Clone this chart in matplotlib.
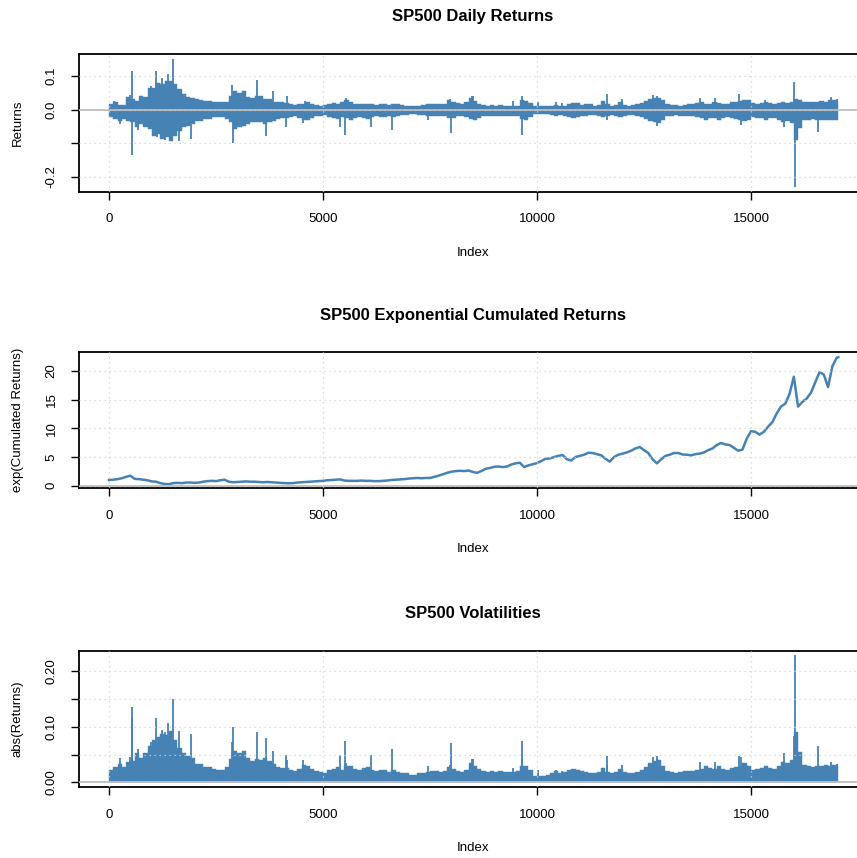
import numpy as np
import matplotlib
matplotlib.use("Agg")
import matplotlib.pyplot as plt

plt.rcParams["font.family"] = ["Liberation Sans", "DejaVu Sans"]

n_days = 17040
ret_up = [
    0.017, 0.024, 0.014, 0.014, 0.037, 0.032, 0.027, 0.042, 0.037, 0.066,
    0.066, 0.081, 0.076, 0.086, 0.086, 0.076, 0.061, 0.047, 0.037, 0.034,
    0.032, 0.029, 0.027, 0.025, 0.024, 0.022, 0.022, 0.024, 0.042, 0.056,
    0.051, 0.056, 0.037, 0.034, 0.042, 0.040, 0.032, 0.032, 0.024, 0.022,
    0.022, 0.020, 0.018, 0.014, 0.016, 0.018, 0.022, 0.018, 0.014, 0.012,
    0.014, 0.018, 0.020, 0.018, 0.022, 0.030, 0.022, 0.018, 0.016, 0.018,
    0.016, 0.016, 0.014, 0.018, 0.018, 0.014, 0.018, 0.016, 0.014, 0.012,
    0.012, 0.012, 0.012, 0.014, 0.016, 0.018, 0.018, 0.016, 0.018, 0.028,
    0.024, 0.020, 0.018, 0.022, 0.035, 0.025, 0.018, 0.014, 0.012, 0.014,
    0.012, 0.014, 0.012, 0.012, 0.012, 0.012, 0.030, 0.026, 0.020, 0.010,
    0.012, 0.010, 0.010, 0.012, 0.014, 0.010, 0.012, 0.016, 0.020, 0.020,
    0.014, 0.018, 0.016, 0.012, 0.014, 0.026, 0.016, 0.012, 0.014, 0.024,
    0.014, 0.012, 0.014, 0.016, 0.020, 0.026, 0.032, 0.036, 0.036, 0.028,
    0.018, 0.014, 0.014, 0.012, 0.014, 0.016, 0.016, 0.020, 0.022, 0.016,
    0.018, 0.022, 0.020, 0.018, 0.016, 0.022, 0.024, 0.026, 0.030, 0.028,
    0.020, 0.018, 0.020, 0.022, 0.020, 0.018, 0.020, 0.022, 0.020, 0.022,
    0.032, 0.030, 0.024, 0.022, 0.024, 0.024, 0.026, 0.024, 0.028, 0.030,
    0.025,
]
ret_lo = [
    -0.023, -0.028, -0.033, -0.028, -0.033, -0.038, -0.052, -0.043, -0.052, -0.057,
    -0.077, -0.072, -0.087, -0.082, -0.092, -0.077, -0.062, -0.052, -0.048, -0.043,
    -0.033, -0.033, -0.028, -0.028, -0.023, -0.023, -0.023, -0.028, -0.038, -0.057,
    -0.052, -0.048, -0.043, -0.038, -0.038, -0.038, -0.043, -0.038, -0.033, -0.028,
    -0.026, -0.026, -0.022, -0.020, -0.024, -0.032, -0.030, -0.024, -0.020, -0.018,
    -0.016, -0.022, -0.024, -0.028, -0.022, -0.026, -0.030, -0.024, -0.022, -0.026,
    -0.028, -0.022, -0.020, -0.022, -0.022, -0.018, -0.022, -0.018, -0.016, -0.016,
    -0.014, -0.014, -0.016, -0.016, -0.018, -0.020, -0.020, -0.018, -0.020, -0.026,
    -0.024, -0.020, -0.018, -0.022, -0.028, -0.030, -0.024, -0.020, -0.018, -0.020,
    -0.018, -0.020, -0.018, -0.018, -0.018, -0.020, -0.028, -0.030, -0.022, -0.012,
    -0.012, -0.012, -0.014, -0.016, -0.020, -0.016, -0.018, -0.022, -0.024, -0.022,
    -0.020, -0.018, -0.016, -0.016, -0.018, -0.022, -0.018, -0.016, -0.018, -0.022,
    -0.018, -0.016, -0.016, -0.018, -0.022, -0.028, -0.034, -0.038, -0.040, -0.030,
    -0.020, -0.018, -0.016, -0.018, -0.020, -0.020, -0.020, -0.022, -0.024, -0.030,
    -0.026, -0.024, -0.030, -0.024, -0.022, -0.026, -0.028, -0.030, -0.034, -0.030,
    -0.022, -0.024, -0.026, -0.030, -0.026, -0.024, -0.030, -0.036, -0.035, -0.040,
    -0.090, -0.055, -0.032, -0.030, -0.028, -0.030, -0.030, -0.032, -0.030, -0.032,
    -0.030,
]

# single days that stick out of the envelope
spike_day = [117, 257, 491, 545, 548, 686, 779, 974, 1100, 1114, 1231, 1309,
             1390, 1500, 1636, 1917, 2880, 2890, 3450, 3660, 3820, 4140, 4150,
             4540, 4578, 5400, 5513, 5537, 5591, 6120, 6620, 7460, 7967, 7990,
             8473, 8510, 9446, 9640, 9650, 10020, 10450, 10575, 11627, 11640,
             11977, 12718, 12794, 12800, 13800, 14160, 14720, 14765, 15326,
             15770, 16010, 16030, 16556, 16860, 17000]
spike_ret = [0.025, -0.043, 0.045, 0.115, -0.136, -0.060, 0.040, 0.072, 0.115,
             -0.080, 0.095, -0.090, 0.106, 0.150, -0.092, -0.087, 0.073, -0.100,
             0.090, -0.079, 0.056, -0.050, 0.040, -0.040, 0.025, -0.050, -0.075,
             0.035, 0.030, -0.050, -0.060, -0.030, 0.032, -0.070, 0.042, 0.042,
             0.025, 0.042, -0.075, 0.022, 0.022, 0.020, 0.047, -0.030, 0.032,
             0.045, -0.048, 0.042, 0.036, 0.036, 0.047, -0.045, 0.030, -0.052,
             0.083, -0.229, -0.065, 0.037, 0.033]

# exp(cumulated returns), every 100 days plus the last day
cum_day = list(range(0, 17001, 100)) + [17040]
cum_val = [
    1.00, 1.05, 1.15, 1.30, 1.55, 1.75, 1.20, 1.15, 1.05, 0.95,
    0.75, 0.70, 0.45, 0.30, 0.28, 0.45, 0.50, 0.45, 0.55, 0.55,
    0.50, 0.55, 0.70, 0.80, 0.85, 0.80, 0.95, 1.05, 0.70, 0.60,
    0.65, 0.70, 0.75, 0.70, 0.70, 0.65, 0.60, 0.65, 0.60, 0.55,
    0.50, 0.45, 0.42, 0.45, 0.55, 0.60, 0.65, 0.70, 0.75, 0.80,
    0.85, 0.95, 1.00, 1.05, 1.10, 0.90, 0.85, 0.85, 0.85, 0.90,
    0.85, 0.85, 0.80, 0.80, 0.85, 0.90, 1.00, 1.05, 1.10, 1.15,
    1.25, 1.30, 1.35, 1.30, 1.35, 1.35, 1.55, 1.75, 2.00, 2.25,
    2.45, 2.55, 2.60, 2.55, 2.65, 2.40, 2.25, 2.55, 2.95, 3.10,
    3.30, 3.35, 3.25, 3.35, 3.70, 3.90, 4.00, 3.25, 3.55, 3.75,
    3.95, 4.30, 4.70, 4.75, 5.00, 5.20, 5.35, 4.60, 4.40, 5.00,
    5.20, 5.40, 5.75, 5.70, 5.50, 5.30, 4.70, 4.20, 5.00, 5.40,
    5.60, 5.80, 6.10, 6.50, 6.75, 6.20, 5.70, 4.60, 3.90, 4.60,
    5.20, 5.40, 5.70, 5.70, 5.45, 5.40, 5.30, 5.50, 5.60, 5.80,
    6.20, 6.50, 7.10, 7.45, 7.20, 7.10, 6.60, 6.10, 6.30, 8.20,
    9.50, 9.40, 8.90, 9.40, 10.30, 11.10, 12.60, 13.80, 14.30, 16.00,
    19.00, 13.80, 14.60, 15.20, 16.20, 18.00, 19.80, 19.40, 17.20, 20.80,
    22.30, 22.40,
]

ret_up = np.array(ret_up)
ret_lo = np.array(ret_lo)
bin_left = np.arange(0, n_days, 100)
bin_width = np.minimum(100, n_days - bin_left)
vol_env = np.maximum(ret_up, -ret_lo)

blue = "#4682B4"
W, H = 857, 858
fig = plt.figure(figsize=(W / 100, H / 100), dpi=100)


def add_panel(top, bottom):
    # pixel box -> figure fraction; the right edge runs past the picture like the original
    return fig.add_axes([79 / W, 1 - bottom / H, (867 - 79) / W, (bottom - top) / H])


def style(ax, ylim, yticks, ylabels):
    ax.set_xlim(-701, 17710)
    ax.set_ylim(*ylim)
    ax.set_xticks([0, 5000, 10000, 15000])
    ax.set_xticklabels(["0", "5000", "10000", "15000"])
    ax.set_yticks(yticks)
    ax.set_yticklabels(ylabels, rotation=90, va="center")
    ax.tick_params(direction="out", length=5.8, width=1.0, pad=9.5,
                   labelsize=9.5, colors="black")
    for s in ax.spines.values():
        s.set_linewidth(1.3)
    for x in [0, 5000, 10000, 15000]:
        ax.axvline(x, color="#D3D3D3", lw=0.9, ls=(0, (1, 3)), zorder=3)
    for y in yticks:
        ax.axhline(y, color="#D3D3D3", lw=0.9, ls=(0, (1, 3)), zorder=3)
    ax.axhline(0, color="#BEBEBE", lw=1.3, zorder=4)


def labels(title, ylab, top, bottom):
    fig.text(473 / W, 1 - (top - 37) / H, title, ha="center", va="center",
             fontsize=12, fontweight="bold")
    fig.text(473 / W, 1 - (bottom + 61) / H, "Index", ha="center", va="center",
             fontsize=9.5)
    fig.text(18 / W, 1 - (top + bottom) / 2 / H, ylab, ha="center", va="center",
             rotation=90, fontsize=9.5)


# daily returns
ax1 = add_panel(54, 192)
ax1.bar(bin_left, ret_up - ret_lo, bottom=ret_lo, width=bin_width, align="edge",
        color=blue, edgecolor=blue, linewidth=0.3, zorder=2)
ax1.vlines(spike_day, 0, spike_ret, color=blue, lw=1.3, zorder=2)
style(ax1, (-0.245, 0.166), [0.1, 0.0, -0.1, -0.2], ["0.1", "0.0", "", "-0.2"])
labels("SP500 Daily Returns", "Returns", 54, 192)

# exponential cumulated returns
ax2 = add_panel(352.3, 488.3)
ax2.plot(cum_day, cum_val, color=blue, lw=1.8, zorder=2)
style(ax2, (-0.45, 23.26), [0, 5, 10, 15, 20], ["0", "5", "10", "15", "20"])
labels("SP500 Exponential Cumulated Returns", "exp(Cumulated Returns)", 352.3, 488.3)

# volatilities
ax3 = add_panel(650.7, 787.3)
ax3.bar(bin_left, vol_env, width=bin_width, align="edge",
        color=blue, edgecolor=blue, linewidth=0.3, zorder=2)
ax3.vlines(spike_day, 0, np.abs(spike_ret), color=blue, lw=1.3, zorder=2)
style(ax3, (-0.009, 0.237), [0.0, 0.05, 0.10, 0.15, 0.20],
      ["0.00", "", "0.10", "", "0.20"])
labels("SP500 Volatilities", "abs(Returns)", 650.7, 787.3)

fig.savefig("out.png", dpi=100, facecolor="white")
